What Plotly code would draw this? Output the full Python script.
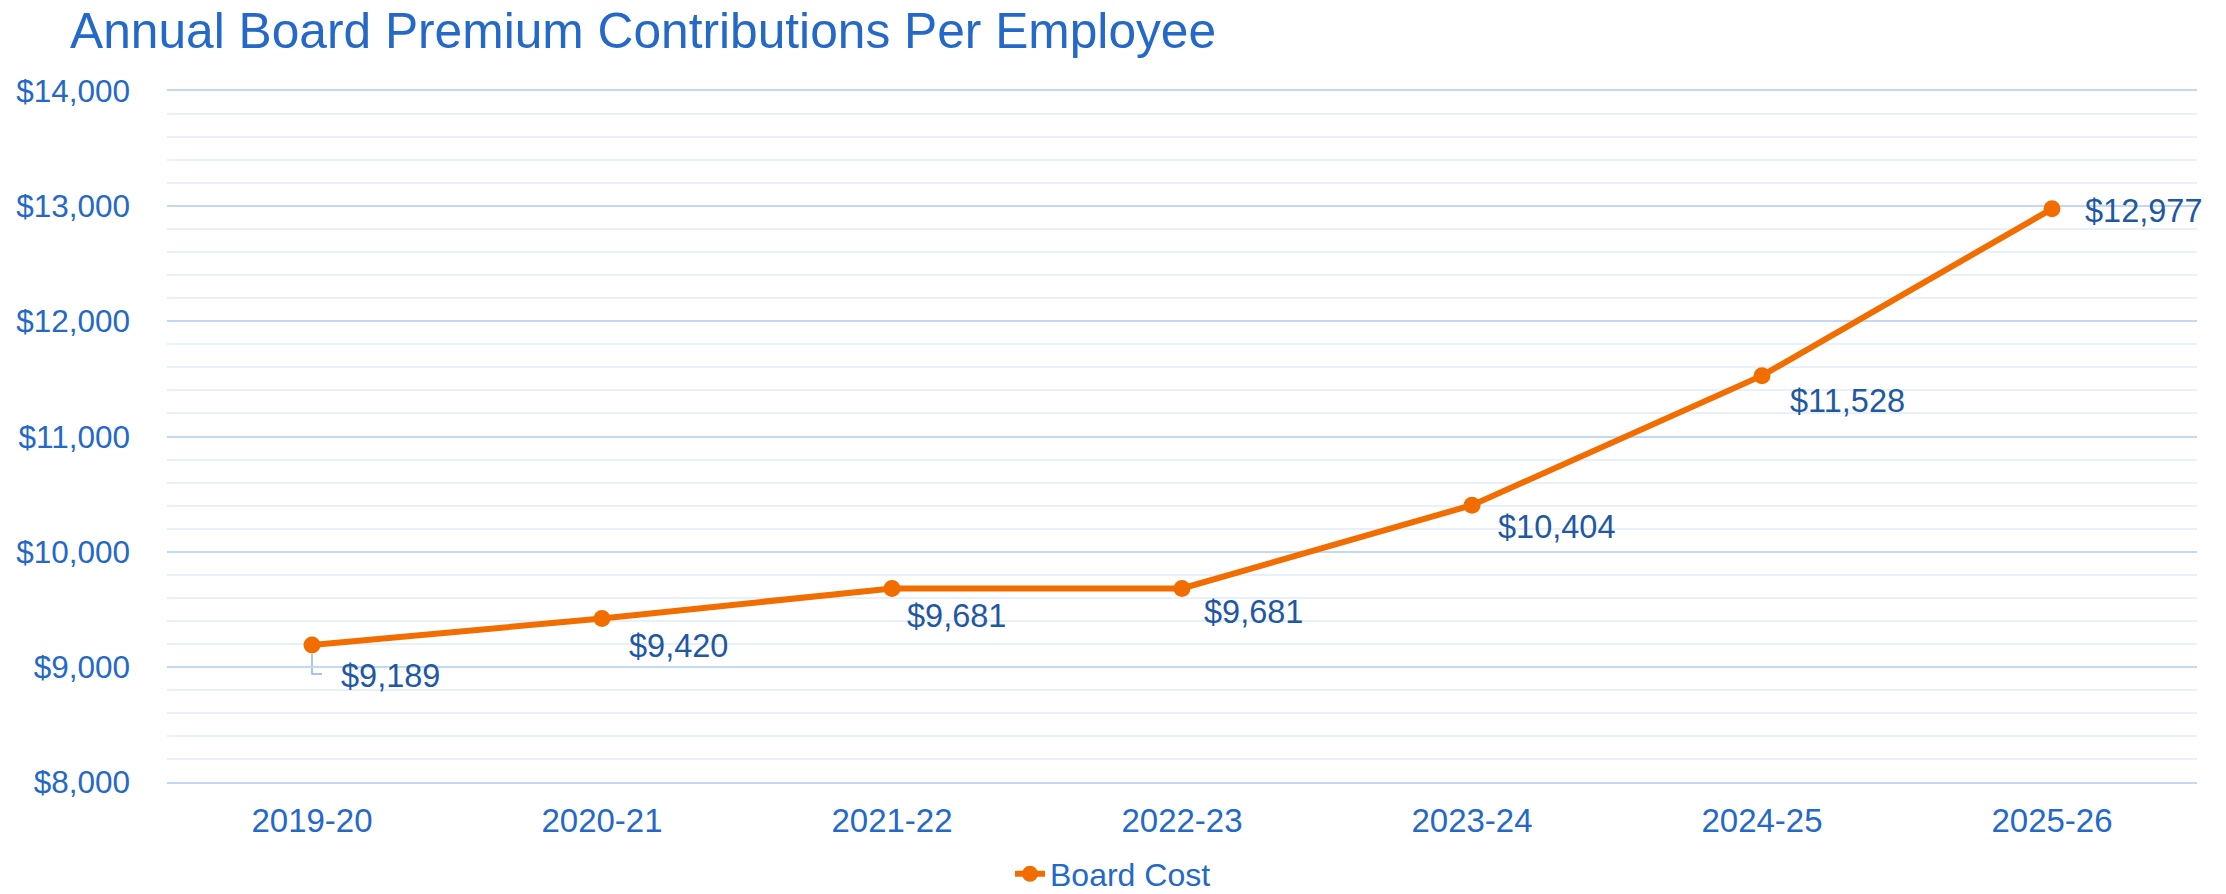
import plotly.graph_objects as go

# ---- data ----
years = ["2019-20", "2020-21", "2021-22", "2022-23", "2023-24", "2024-25", "2025-26"]
board_cost = [9189, 9420, 9681, 9681, 10404, 11528, 12977]
series_name = "Board Cost"
title_text = "Annual Board Premium Contributions Per Employee"
y_tickvals = [8000, 9000, 10000, 11000, 12000, 13000, 14000]
y_ticktext = ["$8,000", "$9,000", "$10,000", "$11,000", "$12,000", "$13,000", "$14,000"]

# label offsets (pixels) from each point: (right, down)
label_offsets = [(27, 31), (25, 28), (13, 28), (20, 24), (24, 22), (26, 25), (31, 2)]

FONT = "Liberation Sans, Arial, sans-serif"
BLUE = "#2469c7"
LABEL_BLUE = "#1f58a3"
ORANGE = "#f26d00"
GRID_MAJOR = "#c4d8f1"
GRID_MINOR = "#e8f0fa"

fig = go.Figure()
fig.add_trace(go.Scatter(
    x=years, y=board_cost, name=series_name, mode="lines+markers",
    line=dict(color=ORANGE, width=6),
    marker=dict(color=ORANGE, size=17),
    showlegend=True, hoverinfo="x+y",
))

annotations = []
for x, v, (dx, dy) in zip(years, board_cost, label_offsets):
    annotations.append(dict(
        x=x, y=v, xref="x", yref="y", text=f"${v:,}", showarrow=False,
        xanchor="left", yanchor="middle", xshift=dx, yshift=-dy,
        font=dict(family=FONT, size=32.5, color=LABEL_BLUE),
    ))

# leader line for the first label
shapes = [dict(
    type="path", xref="x", yref="y", xsizemode="pixel", ysizemode="pixel",
    xanchor=years[0], yanchor=board_cost[0],
    path="M0,-9 L0,-29 L10,-29",
    line=dict(color="#8db3e6", width=1.5), layer="below",
)]

fig.update_layout(
    width=2226, height=894,
    margin=dict(l=167, r=29, t=91, b=112, autoexpand=False),
    paper_bgcolor="white", plot_bgcolor="white",
    font=dict(family=FONT, size=31, color=BLUE),
    title=dict(text=title_text, x=70 / 2226, xref="container", xanchor="left",
               y=1 - 31 / 894, yref="container", yanchor="middle",
               font=dict(family=FONT, size=49.7, color=BLUE)),
    xaxis=dict(type="category", categoryorder="array", categoryarray=years,
               showgrid=False, zeroline=False,
               showline=True, mirror=True, linecolor=GRID_MAJOR, linewidth=2,
               tickfont=dict(family=FONT, size=33, color=BLUE),
               ticks="", ticklabelstandoff=8, range=[-0.5, len(years) - 0.5]),
    yaxis=dict(range=[8000, 14000], tickvals=y_tickvals, ticktext=y_ticktext,
               showgrid=True, gridcolor=GRID_MAJOR, gridwidth=2,
               zeroline=False, showline=False, ticks="",
               ticklabelstandoff=36,
               tickfont=dict(family=FONT, size=31.5, color=BLUE),
               minor=dict(dtick=200, showgrid=True, gridcolor=GRID_MINOR, gridwidth=1.5)),
    legend=dict(orientation="h", x=0.5, xref="container", xanchor="center",
                y=1 - 874 / 894, yref="container", yanchor="middle",
                font=dict(family=FONT, size=32, color=BLUE),
                bgcolor="rgba(0,0,0,0)"),
    annotations=annotations,
    shapes=shapes,
    hovermode="closest",
)

fig.write_html("out.html")
